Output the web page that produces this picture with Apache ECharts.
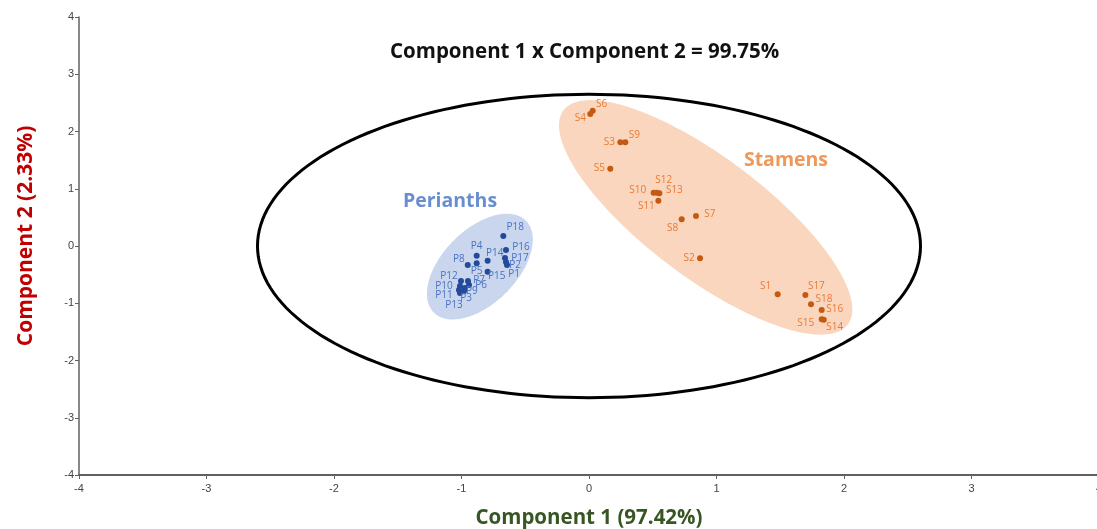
<!DOCTYPE html>
<html>
<head>
<meta charset="utf-8">
<script src="https://cdn.jsdelivr.net/npm/echarts@6/dist/echarts.min.js"></script>
<style>
  html, body { margin: 0; padding: 0; background: #ffffff; }
  #chart { width: 1097px; height: 529px; }
</style>
</head>
<body>
<div id="chart"></div>
<script>
// PCA scores: perianth samples
const perianthNames = ['P1','P2','P3','P4','P5','P6','P7','P8','P9','P10','P11','P12','P13','P14','P15','P16','P17','P18'];
const perianthPC1 = [-0.643,-0.651,-0.980,-0.881,-0.881,-0.941,-0.949,-0.951,-0.973,-1.012,-1.020,-1.004,-1.012,-0.795,-0.795,-0.651,-0.659,-0.672];
const perianthPC2 = [-0.330,-0.280,-0.786,-0.170,-0.300,-0.681,-0.611,-0.330,-0.734,-0.699,-0.769,-0.611,-0.821,-0.256,-0.449,-0.070,-0.210,0.175];

// PCA scores: stamen samples
const stamenNames = ['S1','S2','S3','S4','S5','S6','S7','S8','S9','S10','S11','S12','S13','S14','S15','S16','S17','S18'];
const stamenPC1 = [1.480,0.871,0.246,0.010,0.167,0.029,0.839,0.727,0.285,0.507,0.544,0.531,0.552,1.841,1.825,1.825,1.697,1.741];
const stamenPC2 = [-0.844,-0.215,1.811,2.306,1.350,2.363,0.524,0.466,1.811,0.931,0.790,0.931,0.920,-1.287,-1.280,-1.118,-0.856,-1.019];

// axis tick values (both components)
const axisTicks = [-4,-3,-2,-1,0,1,2,3,4];

// ellipses: centre and two conjugate semi-axis vectors, in score units
const ellipseNames = ['Hotelling', 'Perianths', 'Stamens'];
const ellipseCenters = [[0, 0], [-0.856, -0.36], [0.915, 0.50]];
const ellipseAxisU = [[2.6, 0], [0.361, 0.803], [1.115, -1.870]];
const ellipseAxisV = [[0, 2.65], [0.205, -0.457], [-0.283, -0.837]];

// group captions
const groupNames = ['Perianths', 'Stamens'];
const groupLabelPos = [[-1.09, 0.77], [1.545, 1.50]];

// where each point label sits relative to its marker (pixels)
const labelOffsets = {
  P1:[7,9], P2:[9,3], P3:[2,7], P4:[0,-10], P5:[0,8], P6:[12,0], P7:[11,-1], P8:[-9,-6],
  P9:[7,3], P10:[-16,0], P11:[-15,5], P12:[-12,-5], P13:[-6,12], P14:[7,-7], P15:[9,4],
  P16:[15,-3], P17:[15,0], P18:[12,-9],
  S1:[-12,-8], S2:[-11,0], S3:[-11,0], S4:[-10,4], S5:[-11,-1], S6:[9,-7], S7:[14,-2],
  S8:[-9,9], S9:[9,-7], S10:[-16,-3], S11:[-12,5], S12:[7,-13], S13:[15,-3], S14:[11,7],
  S15:[-16,4], S16:[13,-1], S17:[11,-9], S18:[13,-5]
};

const FONT = '"Open Sans", Lato, sans-serif';
const TICK_FONT = '"Liberation Sans Narrow", "Liberation Sans", sans-serif';

function pointData(names, xs, ys) {
  return names.map((n, i) => ({
    name: n,
    value: [xs[i], ys[i]],
    label: { offset: labelOffsets[n] }
  }));
}

const ellipseStyles = [
  { fill: 'none', stroke: '#000000', lineWidth: 3 },
  { fill: '#c9d6ee', stroke: 'none', lineWidth: 0 },
  { fill: '#f9d6bd', stroke: 'none', lineWidth: 0 }
];

function ellipseSeries(indices, z) {
  return {
    type: 'custom',
    coordinateSystem: 'cartesian2d',
    z: z,
    silent: true,
    clip: false,
    data: indices.map(i => ({ name: ellipseNames[i], value: [ellipseCenters[i][0], ellipseCenters[i][1], i] })),
    renderItem: function (params, api) {
      const i = api.value(2);
      const c = ellipseCenters[i], u = ellipseAxisU[i], v = ellipseAxisV[i];
      const pts = [];
      const n = 180;
      for (let k = 0; k < n; k++) {
        const t = (k / n) * Math.PI * 2;
        const ct = Math.cos(t), st = Math.sin(t);
        pts.push(api.coord([c[0] + u[0] * ct + v[0] * st, c[1] + u[1] * ct + v[1] * st]));
      }
      const s = ellipseStyles[i];
      return {
        type: 'polygon',
        shape: { points: pts, smooth: 0 },
        style: { fill: s.fill, stroke: s.stroke, lineWidth: s.lineWidth }
      };
    }
  };
}

const chart = echarts.init(document.getElementById('chart'), null, { renderer: 'canvas' });

chart.setOption({
  backgroundColor: '#ffffff',
  animation: false,
  title: {
    text: 'Component 1 x Component 2 = 99.75%',
    left: 385,
    top: 37,
    textStyle: { fontFamily: FONT, fontSize: 20.5, fontWeight: 'bold', color: '#111111' }
  },
  grid: { left: 79, top: 17, width: 1020, height: 458, containLabel: false, outerBoundsMode: 'none' },
  xAxis: {
    type: 'value',
    min: axisTicks[0],
    max: axisTicks[axisTicks.length - 1],
    interval: 1,
    name: 'Component 1 (97.42%)',
    nameLocation: 'middle',
    nameGap: 33,
    nameTextStyle: { fontFamily: FONT, fontSize: 20.5, fontWeight: 'bold', color: '#375623' },
    axisLine: { onZero: false, lineStyle: { color: '#606060', width: 2 } },
    axisTick: { show: true, length: 4, lineStyle: { color: '#606060' } },
    axisLabel: { fontFamily: TICK_FONT, fontSize: 11, color: '#444444', margin: 8, showMaxLabel: true, hideOverlap: false },
    splitLine: { show: false }
  },
  yAxis: {
    type: 'value',
    min: axisTicks[0],
    max: axisTicks[axisTicks.length - 1],
    interval: 1,
    name: 'Component 2 (2.33%)',
    nameLocation: 'middle',
    nameGap: 42,
    nameRotate: 90,
    nameTextStyle: { fontFamily: FONT, fontSize: 21, fontWeight: 'bold', color: '#c00000', padding: [0, 0, 0, 20] },
    axisLine: { onZero: false, lineStyle: { color: '#606060', width: 1.5 } },
    axisTick: { show: true, length: 4, lineStyle: { color: '#606060' } },
    axisLabel: { fontFamily: TICK_FONT, fontSize: 11, color: '#444444', margin: 5, hideOverlap: false },
    splitLine: { show: false }
  },
  series: [
    ellipseSeries([1, 2], 1),
    ellipseSeries([0], 2),
    {
      type: 'scatter',
      name: 'Perianths',
      z: 3,
      symbolSize: 6,
      itemStyle: { color: '#24499a', opacity: 1 },
      label: {
        show: true, position: 'inside', formatter: '{b}',
        fontFamily: FONT, fontSize: 10, color: '#4a72c4'
      },
      data: pointData(perianthNames, perianthPC1, perianthPC2)
    },
    {
      type: 'scatter',
      name: 'Stamens',
      z: 3,
      symbolSize: 6,
      itemStyle: { color: '#c45a12', opacity: 1 },
      label: {
        show: true, position: 'inside', formatter: '{b}',
        fontFamily: FONT, fontSize: 10, color: '#ea7a33'
      },
      data: pointData(stamenNames, stamenPC1, stamenPC2)
    },
    {
      type: 'scatter',
      name: 'groups',
      z: 4,
      symbolSize: 0,
      silent: true,
      label: { show: true, position: 'inside', formatter: '{b}', fontFamily: FONT, fontSize: 19.5, fontWeight: 'bold' },
      data: groupNames.map((g, i) => ({
        name: g,
        value: groupLabelPos[i],
        label: { color: i === 0 ? '#4472c4' : '#ed7d31' }
      }))
    }
  ]
});
</script>
</body>
</html>
